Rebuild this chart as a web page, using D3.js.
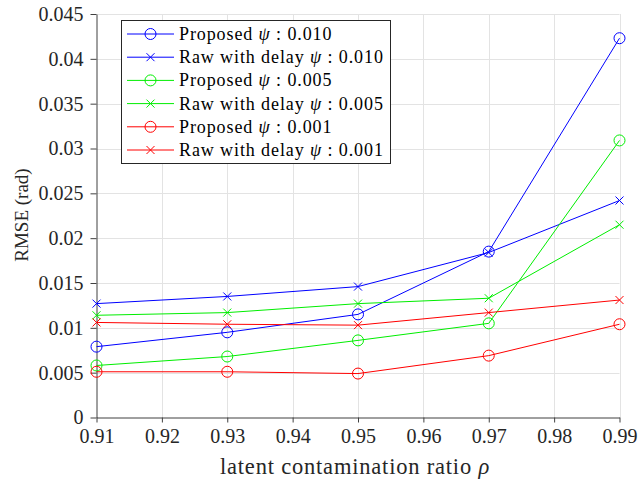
<!DOCTYPE html>
<html>
<head>
<meta charset="utf-8">
<script src="https://cdn.jsdelivr.net/npm/d3@7"></script>
<style>
  html, body { margin: 0; padding: 0; background: #fff; }
  svg { display: block; }
</style>
</head>
<body>
<svg id="chart" width="639" height="483"></svg>
<script>
// Contamination ratios on the x axis
const rho = [0.91, 0.93, 0.95, 0.97, 0.99];

// RMSE (rad) for each method and noise level psi
const proposed010 = [0.0079, 0.0095, 0.0115, 0.0185, 0.0423];
const raw010      = [0.0127, 0.0135, 0.0146, 0.0184, 0.0242];
const proposed005 = [0.0058, 0.0068, 0.0086, 0.0105, 0.0309];
const raw005      = [0.0114, 0.0117, 0.0127, 0.0133, 0.0215];
const proposed001 = [0.0051, 0.0051, 0.0049, 0.0069, 0.0104];
const raw001      = [0.0106, 0.0104, 0.0103, 0.0117, 0.0131];

const xTicks = [0.91, 0.92, 0.93, 0.94, 0.95, 0.96, 0.97, 0.98, 0.99];
const xTickLabels = ["0.91", "0.92", "0.93", "0.94", "0.95", "0.96", "0.97", "0.98", "0.99"];
const yTicks = [0, 0.005, 0.01, 0.015, 0.02, 0.025, 0.03, 0.035, 0.04, 0.045];
const yTickLabels = ["0", "0.005", "0.01", "0.015", "0.02", "0.025", "0.03", "0.035", "0.04", "0.045"];

const seriesNames = ["Proposed", "Raw with delay", "Proposed", "Raw with delay", "Proposed", "Raw with delay"];
const seriesPsi = ["0.010", "0.010", "0.005", "0.005", "0.001", "0.001"];
const seriesValues = [proposed010, raw010, proposed005, raw005, proposed001, raw001];
const seriesColors = ["#0000ff", "#0000ff", "#00ee00", "#00ee00", "#ff0000", "#ff0000"];
const seriesMarkers = ["circle", "cross", "circle", "cross", "circle", "cross"];

const svg = d3.select("#chart");
const serif = "'Liberation Serif', 'Times New Roman', 'DejaVu Serif', serif";

const plot = { left: 96.5, right: 619.5, top: 14, bottom: 417.5 };

const x = d3.scaleLinear().domain([0.91, 0.99]).range([plot.left, plot.right]);
const y = d3.scaleLinear().domain([0, 0.045]).range([plot.bottom, plot.top]);

// Grid
const grid = svg.append("g").attr("stroke", "#e3e3e3").attr("stroke-width", 1);
xTicks.forEach(t => {
  if (t === 0.91) return;
  grid.append("line")
    .attr("x1", Math.round(x(t)) + 0.5).attr("x2", Math.round(x(t)) + 0.5)
    .attr("y1", plot.top).attr("y2", plot.bottom);
});
yTicks.forEach(t => {
  if (t === 0) return;
  grid.append("line")
    .attr("x1", plot.left).attr("x2", plot.right)
    .attr("y1", Math.round(y(t)) + 0.5).attr("y2", Math.round(y(t)) + 0.5);
});

// Axes
const xAxis = d3.axisBottom(x)
  .tickValues(xTicks)
  .tickFormat((d, i) => xTickLabels[i])
  .tickSizeInner(5).tickSizeOuter(0).tickPadding(6);
const yAxis = d3.axisLeft(y)
  .tickValues(yTicks)
  .tickFormat((d, i) => yTickLabels[i])
  .tickSizeInner(6).tickSizeOuter(0).tickPadding(7);

const gx = svg.append("g").attr("transform", `translate(0,${plot.bottom})`).call(xAxis);
const gy = svg.append("g").attr("transform", `translate(${plot.left},0)`).call(yAxis);
[gx, gy].forEach(g => {
  g.select(".domain").attr("stroke", "#404040").attr("stroke-width", 1);
  g.selectAll(".tick line").attr("stroke", "#404040");
  g.selectAll(".tick text")
    .attr("fill", "#262626")
    .style("font-family", serif)
    .style("font-size", "20px");
});

// Axis titles
const xl = svg.append("text")
  .attr("x", 355).attr("y", 474)
  .attr("text-anchor", "middle")
  .attr("fill", "#262626")
  .style("font-family", serif).style("font-size", "22.5px")
  .style("letter-spacing", "0.8px");
xl.append("tspan").text("latent contamination ratio ");
xl.append("tspan").attr("font-style", "italic").text("ρ");

svg.append("text")
  .attr("transform", "translate(28,215) rotate(-90)")
  .attr("text-anchor", "middle")
  .attr("fill", "#262626")
  .style("font-family", serif).style("font-size", "19px")
  .text("RMSE (rad)");

// Marker drawing
function drawMarker(g, kind, cx, cy, color) {
  if (kind === "circle") {
    g.append("circle").attr("cx", cx).attr("cy", cy).attr("r", 5.5)
      .attr("fill", "none").attr("stroke", color).attr("stroke-width", 1);
  } else {
    const s = 4;
    g.append("path")
      .attr("d", `M${cx - s},${cy - s}L${cx + s},${cy + s}M${cx - s},${cy + s}L${cx + s},${cy - s}`)
      .attr("stroke", color).attr("stroke-width", 1).attr("fill", "none");
  }
}

// Series lines and markers
const line = d3.line().x((d, i) => x(rho[i])).y(d => y(d));
const series = svg.append("g");
seriesValues.forEach((vals, k) => {
  const g = series.append("g");
  g.append("path").datum(vals)
    .attr("d", line)
    .attr("fill", "none")
    .attr("stroke", seriesColors[k])
    .attr("stroke-width", 1);
  vals.forEach((v, i) => drawMarker(g, seriesMarkers[k], x(rho[i]), y(v), seriesColors[k]));
});

// Legend
const legend = svg.append("g");
legend.append("rect")
  .attr("x", 121.5).attr("y", 20.5).attr("width", 269).attr("height", 143)
  .attr("fill", "#fff").attr("stroke", "#262626").attr("stroke-width", 1);
const rowY = d3.scaleLinear().domain([0, 5]).range([34, 150]);
seriesNames.forEach((name, k) => {
  const yy = rowY(k);
  legend.append("line")
    .attr("x1", 127).attr("x2", 174).attr("y1", yy).attr("y2", yy)
    .attr("stroke", seriesColors[k]).attr("stroke-width", 1);
  drawMarker(legend, seriesMarkers[k], 150.5, yy, seriesColors[k]);
  const t = legend.append("text")
    .attr("x", 179).attr("y", yy + 6)
    .attr("fill", "#000")
    .style("font-family", serif).style("font-size", "18px")
    .style("letter-spacing", "0.9px");
  t.append("tspan").text(name + " ");
  t.append("tspan").attr("font-style", "italic").text("ψ");
  t.append("tspan").text(" : " + seriesPsi[k]);
});
</script>
</body>
</html>
